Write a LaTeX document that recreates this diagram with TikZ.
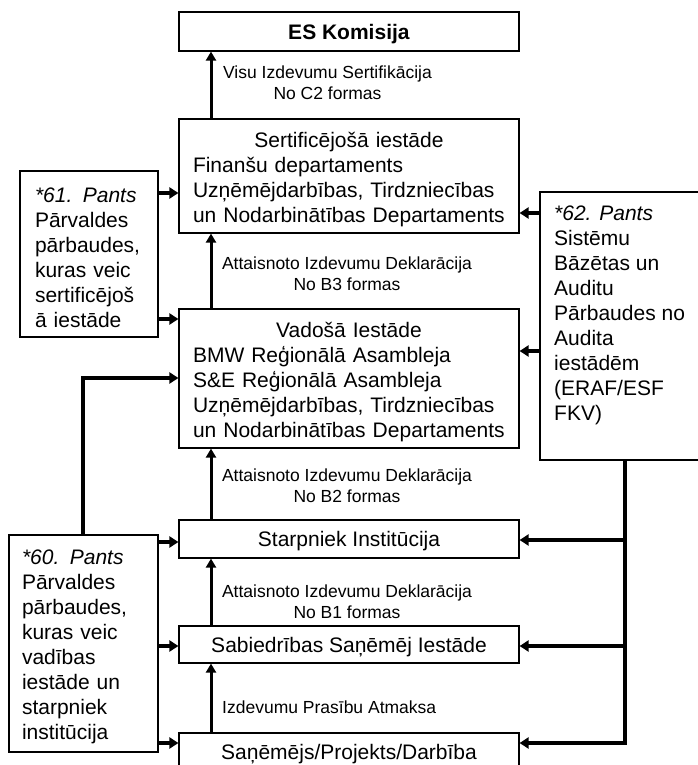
\documentclass[tikz,border=0pt]{standalone}
\usepackage{fontspec}
\setmainfont{Liberation Sans}
\usetikzlibrary{arrows.meta}
\newcommand{\firststrut}{\rule{0pt}{22pt}}
\begin{document}
\begin{tikzpicture}[x=1pt,y=-1pt,
  box/.style={draw, line width=1.2pt, inner sep=0pt, font=\fontsize{21}{25}\selectfont},
  sbox/.style={box, text depth=0pt},
  lbl/.style={font=\fontsize{17.5}{21}\selectfont, align=center, inner sep=0pt},
  varr/.style={line width=3pt, -{Triangle[length=9pt,width=10pt]}},
  harr/.style={line width=4pt, -{Triangle[length=9pt,width=11pt]}},
  bus/.style={line width=3.5pt}]
\useasboundingbox (0,0) rectangle (698,765);
\clip (0,0) rectangle (698,765);

% main column
\node[sbox, minimum width=340pt, minimum height=39pt] (es) at (349,31.5) {\textbf{ES Komisija}};
\node[box, minimum width=340pt, minimum height=114pt, text width=312pt, align=left] (sert) at (349,176)
  {\firststrut\makebox[312pt]{Sertificējošā iestāde}\\Finanšu departaments\\Uzņēmējdarbības, Tirdzniecības\\un Nodarbinātības Departaments};
\node[box, minimum width=340pt, minimum height=139pt, text width=312pt, align=left] (vad) at (349,378.5)
  {\firststrut\makebox[312pt]{Vadošā Iestāde}\\BMW Reģionālā Asambleja\\S\&E Reģionālā Asambleja\\Uzņēmējdarbības, Tirdzniecības\\un Nodarbinātības Departaments};
\node[sbox, minimum width=340pt, minimum height=38pt] (starp) at (349,539) {Starpniek Institūcija};
\node[sbox, minimum width=340pt, minimum height=37pt] (sab) at (349,644.5) {Sabiedrības Saņēmēj Iestāde};
\node[sbox, minimum width=340pt, minimum height=38pt] (san) at (349,752) {Saņēmējs/Projekts/Darbība};

% side boxes
\node[box, minimum width=138pt, minimum height=166pt, text width=108pt, align=left] (l61) at (89,254)
  {\firststrut\textit{*61. Pants}\\Pārvaldes\\pārbaudes,\\kuras veic\\sertificējoš\\ā iestāde};
\node[box, minimum width=149pt, minimum height=217pt, text width=123pt, align=left] (l60) at (83.5,643.5)
  {\firststrut\textit{*60. Pants}\\Pārvaldes\\pārbaudes,\\kuras veic\\vadības\\iestāde un\\starpniek\\institūcija};
\node[box, minimum width=175pt, minimum height=268pt] (r62) at (627.5,326) {};
\node[font=\fontsize{21}{25}\selectfont, align=left, inner sep=0pt, anchor=west] (r62t) at (554,315)
  {\textit{*62. Pants}\\Sistēmu\\Bāzētas un\\Auditu\\Pārbaudes no\\Audita\\iestādēm\\(ERAF/ESF\\FKV)};

% labels
\node[lbl] (lc2) at (327.5,83) {Visu Izdevumu Sertifikācija\\No C2 formas};
\node[lbl] (lb3) at (347,273.5) {Attaisnoto Izdevumu Deklarācija\\No B3 formas};
\node[lbl] (lb2) at (347,485.5) {Attaisnoto Izdevumu Deklarācija\\No B2 formas};
\node[lbl] (lb1) at (347,602) {Attaisnoto Izdevumu Deklarācija\\No B1 formas};
\node[lbl, anchor=west] (lia) at (222,707) {Izdevumu Prasību Atmaksa};

% vertical flow arrows
\coordinate (ax) at (211,0);
\draw[varr] (sert.north -| ax) -- (es.south -| ax);
\draw[varr] (vad.north -| ax) -- (sert.south -| ax);
\draw[varr] (starp.north -| ax) -- (vad.south -| ax);
\draw[varr] (sab.north -| ax) -- (starp.south -| ax);
\draw[varr] (san.north -| ax) -- (sab.south -| ax);

% *61 arrows
\draw[harr] (l61.east |- 0,193) -- (sert.west |- 0,193);
\draw[harr] (l61.east |- 0,319) -- (vad.west |- 0,319);

% *62 arrows
\draw[harr] (r62.west |- 0,213) -- (sert.east |- 0,213);
\draw[harr] (r62.west |- 0,351) -- (vad.east |- 0,351);
\coordinate (rb1) at (625,540);
\coordinate (rb2) at (625,646);
\coordinate (rb3) at (625,743);
\draw[bus] (r62.south -| rb1) -- ([yshift=-1.75pt]rb3);
\draw[harr] (rb1) -- (starp.east |- rb1);
\draw[harr] (rb2) -- (sab.east |- rb2);
\draw[harr] (rb3) -- (san.east |- rb3);

% *60 arrows
\coordinate (lb) at (83,378);
\draw[bus, -{Triangle[length=9pt,width=11pt]}] (l60.north -| lb) -- (lb) -- (vad.west |- lb);
\draw[harr] (l60.east |- 0,542) -- (starp.west |- 0,542);
\draw[harr] (l60.east |- 0,646) -- (sab.west |- 0,646);
\draw[harr] (l60.east |- 0,743) -- (san.west |- 0,743);
\end{tikzpicture}
\end{document}
